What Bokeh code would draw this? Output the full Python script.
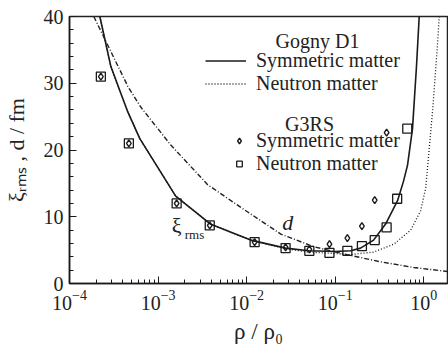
import numpy as np
from bokeh.plotting import figure
from bokeh.models import (Range1d, LogTicker, SingleIntervalTicker, Legend, LegendItem,
                          Label)
from bokeh.embed import file_html
from bokeh.resources import INLINE

FONT = "Liberation Serif"

# Gogny D1, symmetric matter (xi_rms)
sym_x = [2.2e-4, 2.93e-4, 4.55e-4, 6.22e-4, 1.58e-3, 3.94e-3, 0.0111, 0.0275, 0.05, 0.1,
         0.15, 0.193, 0.271, 0.37, 0.505, 0.589, 0.654, 0.745, 0.826, 0.891]
sym_y = [40.0, 32.5, 25.7, 21.7, 13.1, 8.86, 6.5, 5.3, 4.9, 4.8,
         4.9, 5.3, 6.5, 8.9, 12.4, 15.3, 17.7, 23.2, 32.5, 40.5]

# Gogny D1, neutron matter
neu_x = [2.2e-4, 2.93e-4, 4.55e-4, 6.22e-4, 1.58e-3, 3.94e-3, 0.0111, 0.0275, 0.05, 0.1,
         0.14, 0.27, 0.46, 0.71, 0.92, 1.05, 1.26, 1.43, 1.5]
neu_y = [40.0, 32.5, 25.7, 21.7, 13.1, 8.86, 6.5, 5.2, 4.7, 4.5,
         4.3, 4.7, 5.9, 8.0, 10.9, 14.3, 26.1, 36.0, 40.5]

# Cooper pair distance d
d_x = [1.88e-4, 4.57e-4, 6.4e-4, 1.4e-3, 3.63e-3, 8.6e-3, 0.0243, 0.0575, 0.138, 0.324,
       0.767, 1.86]
d_y = [40.0, 29.5, 26.4, 20.7, 14.8, 11.4, 7.4, 5.5, 4.3, 3.25, 2.4, 1.8]

# G3RS neutron matter (squares)
g3n_x = [2.26e-4, 4.68e-4, 1.62e-3, 3.83e-3, 0.0123, 0.0275, 0.051, 0.086, 0.137, 0.20,
         0.279, 0.38, 0.50, 0.65]
g3n_y = [31.0, 21.0, 12.0, 8.7, 6.2, 5.3, 4.9, 4.6, 4.9, 5.6, 6.5, 8.4, 12.7, 23.2]

# G3RS symmetric matter (diamonds)
g3s_x = [2.26e-4, 4.68e-4, 1.62e-3, 3.83e-3, 0.0123, 0.0275, 0.051, 0.086, 0.137, 0.20,
         0.279, 0.38]
g3s_y = [31.0, 21.0, 12.0, 8.7, 6.2, 5.4, 5.1, 5.9, 6.8, 8.6, 12.5, 22.6]

y_ticks = [0, 10, 20, 30, 40]

p = figure(width=448, height=346, x_axis_type="log",
           x_range=Range1d(1e-4, 1.85), y_range=Range1d(0, 40),
           output_backend="svg", toolbar_location=None,
           min_border_left=69, min_border_right=1, min_border_top=16, min_border_bottom=59)
p.background_fill_color = "white"
p.border_fill_color = "white"
p.outline_line_color = "#222222"
p.outline_line_width = 1.5
p.xgrid.visible = False
p.ygrid.visible = False

C = "#1a1a1a"
r_sym = p.line(sym_x, sym_y, line_color=C, line_width=1.6)
r_neu = p.line(neu_x, neu_y, line_color=C, line_width=1.3, line_dash="1 2")
r_d = p.line(d_x, d_y, line_color="#222222", line_width=1.4, line_dash="5 2 1 2")
r_sq = p.scatter(g3n_x, g3n_y, marker="square", size=9, line_color=C, line_width=1.3,
                 fill_color=None)
r_di = p.scatter(g3s_x, g3s_y, marker="diamond", size=7, line_color=C, line_width=1.4,
                 fill_color=None)

# axes
xa = p.xaxis[0]
xa.ticker = LogTicker(num_minor_ticks=10)
ya = p.yaxis[0]
ya.ticker = SingleIntervalTicker(interval=10, num_minor_ticks=5)
for ax in (xa, ya):
    ax.axis_line_color = C
    ax.axis_line_width = 1.5
    ax.major_tick_in = 7
    ax.major_tick_out = 0
    ax.minor_tick_in = 4
    ax.minor_tick_out = 0
    ax.major_tick_line_color = C
    ax.minor_tick_line_color = C
    ax.major_label_text_font = FONT
    ax.major_label_text_font_size = "20px"
    ax.major_label_text_color = "#222222"
    ax.axis_label_text_font = FONT
    ax.axis_label_text_font_style = "normal"
    ax.axis_label_text_color = "#222222"
xa.major_label_standoff = 6
ya.major_label_standoff = 6
xa.axis_label = "ρ / ρ₀"
xa.axis_label_text_font_size = "23px"
xa.axis_label_standoff = 6
ya.axis_label = "ξᵣₘₛ , d / fm"
ya.axis_label_text_font_size = "22px"
ya.axis_label_standoff = 12

# legends
leg_kw = dict(padding=0, margin=0, spacing=0, glyph_height=21, label_height=21,
              label_standoff=10, label_text_font=FONT, label_text_font_size="20px",
              label_text_color="#222222", border_line_color=None,
              background_fill_color=None, background_fill_alpha=0)
leg1 = Legend(items=[LegendItem(label="Symmetric matter", renderers=[r_sym]),
                     LegendItem(label="Neutron matter", renderers=[r_neu])],
              location=(136, 188), glyph_width=41, **leg_kw)
leg2 = Legend(items=[LegendItem(label="Symmetric matter", renderers=[r_di]),
                     LegendItem(label="Neutron matter", renderers=[r_sq])],
              location=(163, 108), glyph_width=14, **leg_kw)
p.add_layout(leg1)
p.add_layout(leg2)

def lab(x, y, t, size, style="normal", align="center"):
    p.add_layout(Label(x=x, y=y, text=t, text_font=FONT, text_font_size=size,
                       text_font_style=style, text_align=align, text_baseline="middle",
                       text_color="#222222"))

lab(0.063, 36.3, "Gogny D1", "20px")
lab(0.0513, 23.9, "G3RS", "20px")
lab(1.43e-3, 8.7, "ξ", "22px", align="left")
lab(2.0e-3, 7.4, "rms", "13px", align="left")
lab(0.029, 9.15, "d", "22px", style="italic")

open("out.html", "w").write(file_html(p, INLINE))
